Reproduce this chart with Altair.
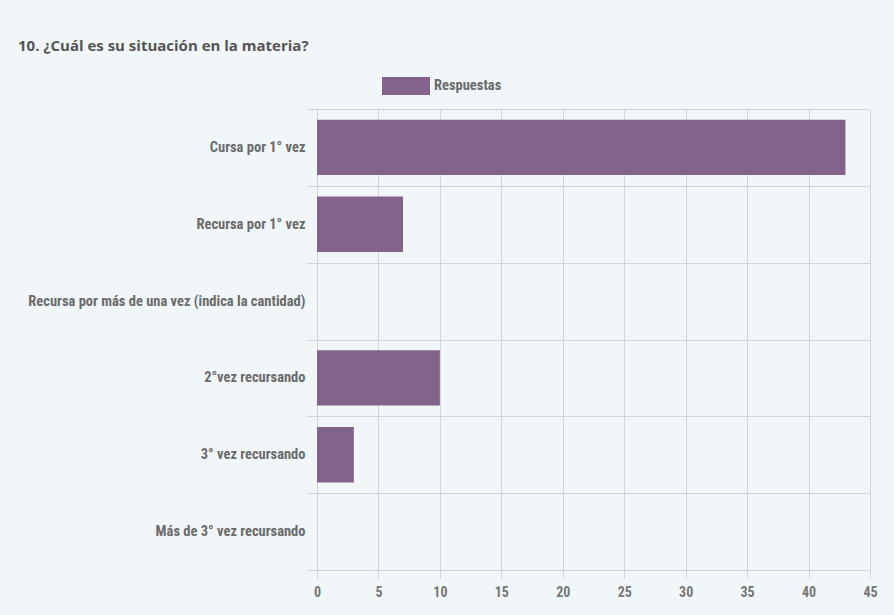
import altair as alt
import pandas as pd

categorias = [
    "Cursa por 1° vez",
    "Recursa por 1° vez",
    "Recursa por más de una vez (indica la cantidad)",
    "2°vez recursando",
    "3° vez recursando",
    "Más de 3° vez recursando",
]
respuestas = [43, 7, 0, 10, 3, 0]
serie = ["Respuestas"] * len(categorias)
ticks_x = [0, 5, 10, 15, 20, 25, 30, 35, 40, 45]

df = pd.DataFrame({"categoria": categorias, "valor": respuestas, "serie": serie})

FONT = "Liberation Sans Narrow, Roboto Condensed, DejaVu Sans Condensed, Roboto, sans-serif"
GRID = "#d2d4d6"
BAR = "#82648a"

bars = alt.Chart(df).mark_bar(height={"band": 0.72}, color=BAR).encode(
    y=alt.Y(
        "categoria:N",
        sort=None,
        title=None,
        scale=alt.Scale(paddingInner=0, paddingOuter=0),
        axis=alt.Axis(
            tickBand="extent",
            grid=True,
            gridColor=GRID,
            tickColor=GRID,
            tickSize=10,
            domain=False,
            labelPadding=2,
            labelFont=FONT,
            labelFontSize=14.5,
            labelFontWeight="bold",
            labelColor="#6b6b6b",
            labelLimit=400,
        ),
    ),
    x=alt.X(
        "valor:Q",
        title=None,
        scale=alt.Scale(domain=[0, 45], nice=False),
        axis=alt.Axis(
            values=ticks_x,
            grid=True,
            gridColor=GRID,
            tickColor=GRID,
            tickSize=8,
            domain=False,
            labelPadding=7,
            labelFont=FONT,
            labelFontSize=14,
            labelFontWeight="bold",
            labelColor="#777777",
            labelFlush=False,
        ),
    ),
    color=alt.Color(
        "serie:N",
        scale=alt.Scale(range=[BAR]),
        legend=alt.Legend(
            title=None,
            orient="none",
            legendX=65,
            legendY=-47,
            padding=0,
            symbolType="M-1,-0.375L1,-0.375L1,0.375L-1,0.375Z",
            symbolSize=2304,
            symbolStrokeWidth=0,
            symbolOpacity=1,
            labelOffset=4,
            labelFont=FONT,
            labelFontSize=14.5,
            labelFontWeight="bold",
            labelColor="#6b6b6b",
        ),
    ),
)

chart = (
    bars
    .properties(
        width=553,
        height=461,
        autosize=alt.AutoSizeParams(type="none"),
        padding={"left": 317, "top": 109, "right": 24, "bottom": 45},
        background="#f1f6f8",
        title=alt.TitleParams(
            "10. ¿Cuál es su situación en la materia?",
            anchor="start",
            frame="group",
            dx=-299,
            offset=8,
            font="Open Sans",
            fontSize=15,
            fontWeight="bold",
            color="#555555",
        ),
    )
    .configure_view(stroke=None)
)

chart.save("out.html", embed_options={"renderer": "svg", "actions": False})
